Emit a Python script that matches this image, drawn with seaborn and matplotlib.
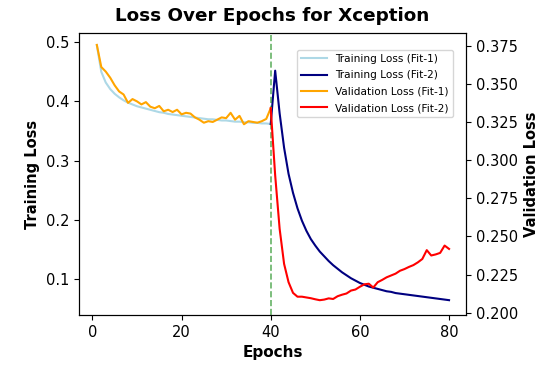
import matplotlib
matplotlib.use("Agg")
import matplotlib.pyplot as plt
import seaborn as sns

epochs_fit1 = list(range(1, 41))
train_fit1 = [0.495, 0.450, 0.432, 0.421, 0.413, 0.407, 0.402, 0.398, 0.395, 0.392,
              0.390, 0.388, 0.386, 0.384, 0.382, 0.381, 0.379, 0.378, 0.377, 0.376,
              0.375, 0.374, 0.373, 0.372, 0.371, 0.370, 0.370, 0.369, 0.368, 0.368,
              0.367, 0.366, 0.366, 0.365, 0.365, 0.364, 0.364, 0.363, 0.363, 0.362]
val_fit1 = [0.3755, 0.361, 0.358, 0.354, 0.349, 0.345, 0.343, 0.3375, 0.340, 0.3385,
            0.3365, 0.338, 0.335, 0.334, 0.3355, 0.332, 0.333, 0.3315, 0.333, 0.330,
            0.331, 0.3305, 0.328, 0.3265, 0.3245, 0.3255, 0.325, 0.3265, 0.328, 0.3275,
            0.331, 0.3265, 0.329, 0.3235, 0.3255, 0.325, 0.3245, 0.3255, 0.327, 0.334]

epochs_fit2 = list(range(40, 81))
train_fit2 = [0.362, 0.452, 0.380, 0.322, 0.278, 0.246, 0.220, 0.199, 0.182, 0.168,
              0.157, 0.147, 0.139, 0.131, 0.124, 0.118, 0.112, 0.107, 0.102, 0.098,
              0.094, 0.091, 0.088, 0.086, 0.084, 0.082, 0.080, 0.079, 0.077, 0.076,
              0.075, 0.074, 0.073, 0.072, 0.071, 0.070, 0.069, 0.068, 0.067, 0.066,
              0.065]
val_fit2 = [0.334, 0.290, 0.255, 0.232, 0.220, 0.213, 0.2105, 0.2105, 0.2100, 0.2095,
            0.2088, 0.2082, 0.2086, 0.2094, 0.2090, 0.2108, 0.2118, 0.2126, 0.2145, 0.2152,
            0.2170, 0.2186, 0.2190, 0.2165, 0.2200, 0.2215, 0.2232, 0.2244, 0.2256, 0.2275,
            0.2286, 0.2300, 0.2312, 0.2330, 0.2352, 0.2410, 0.2375, 0.2382, 0.2392, 0.2440,
            0.2418]

fig = plt.figure(figsize=(5.49, 3.72), dpi=100)
ax = fig.add_axes([79 / 549, 1 - 315 / 372, (466 - 79) / 549, (315 - 33) / 372])
ax2 = ax.twinx()

sns.lineplot(x=epochs_fit1, y=train_fit1, ax=ax, color="lightblue", linewidth=1.5,
             label="Training Loss (Fit-1)", legend=False)
sns.lineplot(x=epochs_fit2, y=train_fit2, ax=ax, color="navy", linewidth=1.5,
             label="Training Loss (Fit-2)", legend=False)
sns.lineplot(x=epochs_fit1, y=val_fit1, ax=ax2, color="orange", linewidth=1.5,
             label="Validation Loss (Fit-1)", legend=False)
sns.lineplot(x=epochs_fit2, y=val_fit2, ax=ax2, color="red", linewidth=1.5,
             label="Validation Loss (Fit-2)", legend=False)

ax.axvline(40, color="green", linestyle="--", linewidth=1.2, alpha=0.6)

ax.set_xlim(-3.0, 83.8)
ax.set_ylim(0.040, 0.5155)
ax2.set_ylim(0.1985, 0.3833)
ax.set_xticks([0, 20, 40, 60, 80])
ax.set_yticks([0.1, 0.2, 0.3, 0.4, 0.5])
ax2.set_yticks([0.200, 0.225, 0.250, 0.275, 0.300, 0.325, 0.350, 0.375])

ax.tick_params(labelsize=10.5)
ax2.tick_params(labelsize=10.5)
ax.set_xlabel("Epochs", fontsize=11, fontweight="bold")
ax.set_ylabel("Training Loss", fontsize=10.5, fontweight="bold")
ax2.set_ylabel("Validation Loss", fontsize=10.5, fontweight="bold")
ax.set_title("Loss Over Epochs for Xception", fontsize=13.2, fontweight="bold", pad=8.5)

h1, l1 = ax.get_legend_handles_labels()
h2, l2 = ax2.get_legend_handles_labels()
ax2.legend(h1 + h2, l1 + l2, loc="upper right", bbox_to_anchor=(0.966, 0.94),
           borderaxespad=0, fontsize=7.6, labelspacing=0.6, handlelength=2.5,
           handletextpad=0.75)

fig.savefig("out.png", dpi=100)
